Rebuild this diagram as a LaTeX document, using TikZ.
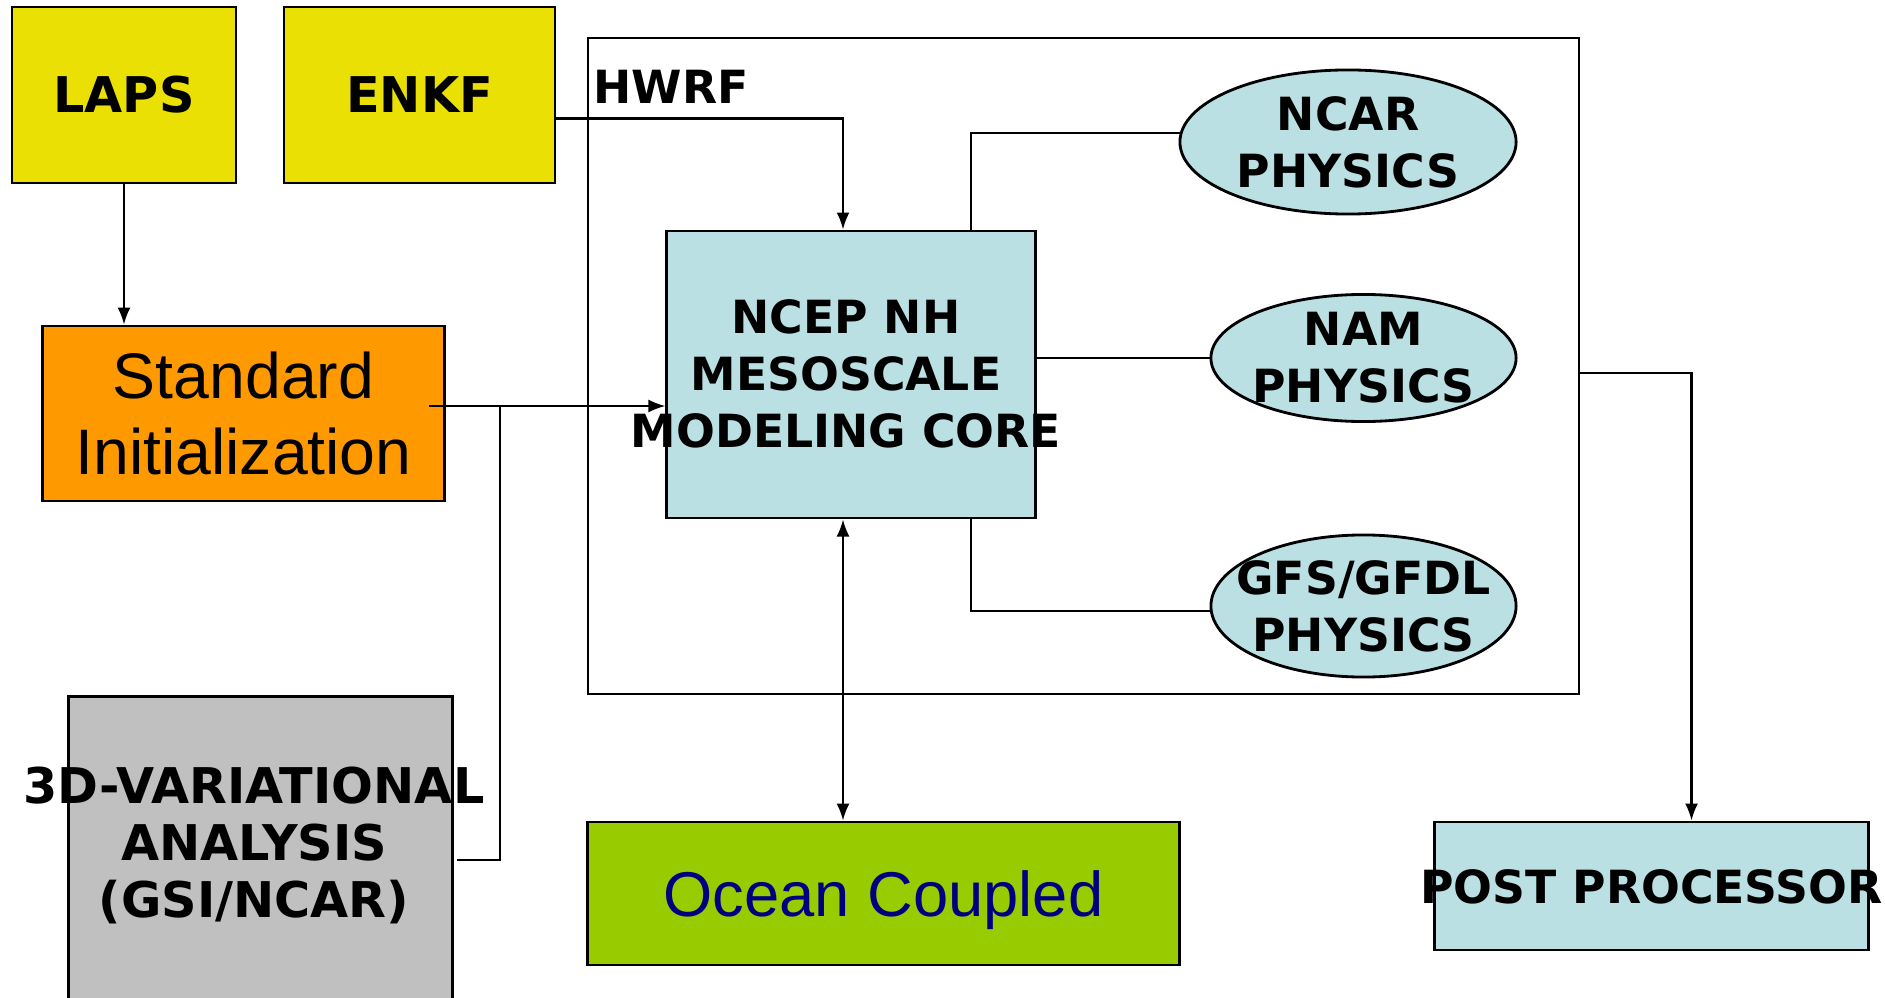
\documentclass[tikz,border=0pt]{standalone}
\usepackage{fontspec}
\setmainfont{Liberation Sans}
\newfontfamily\capsfont{DejaVu Sans}
\usepackage{xcolor}
\usetikzlibrary{arrows,arrows.meta,positioning,calc,shapes}
\definecolor{boxyel}{RGB}{234,224,4}
\definecolor{boxorg}{RGB}{255,153,0}
\definecolor{boxblue}{RGB}{187,224,227}
\definecolor{boxgray}{RGB}{192,192,192}
\definecolor{boxgreen}{RGB}{153,204,0}
\definecolor{oceantxt}{RGB}{0,0,128}

\begin{document}
\begin{tikzpicture}[>={Latex[length=1.7mm,width=1.3mm]},x=0.01cm,y=-0.01cm,
box/.style={rectangle,draw,line width=0.8pt,inner sep=0pt,align=center},
caps/.style={font=\capsfont\bfseries\fontsize{13}{16.2}\selectfont},
txt/.style={caps,align=center,inner sep=0pt},
phys/.style={ellipse,draw,line width=0.8pt,fill=boxblue,inner sep=0pt,
  minimum width=3.05cm,minimum height=1.3cm},
link/.style={line width=0.6pt},
arr/.style={line width=0.6pt,->}]

\useasboundingbox (0,0) rectangle (1885,997);
\clip (0,0) rectangle (1885,997);

\node[box,fill=boxyel,minimum width=2.24cm,minimum height=1.76cm,
  font=\capsfont\bfseries\fontsize{14}{16}\selectfont] (laps) at (124,95) {LAPS};
\node[box,fill=boxyel,minimum width=2.71cm,minimum height=1.76cm,
  font=\capsfont\bfseries\fontsize{14}{16}\selectfont] (enkf) at (419.5,95) {ENKF};
\node[box,fill=boxorg,minimum width=4.01cm,minimum height=1.75cm,
  font=\fontsize{18.3}{21.6}\selectfont] (stdinit) at (243.5,413.5) {Standard\\Initialization};

\node[box,line width=0.6pt,minimum width=9.91cm,minimum height=6.56cm] (hwrf) at (1083.5,366) {};
\node[caps,anchor=west,inner sep=0pt] (hwrflbl) at (593,87) {HWRF};

\node[box,fill=boxblue,minimum width=3.68cm,minimum height=2.87cm] (core) at (851,374.5) {};
\node[txt] (coretxt) at (846,374) {NCEP NH\\MESOSCALE\\MODELING CORE};

\node[phys,minimum width=3.36cm,minimum height=1.44cm] (ncar) at (1348,142) {};
\node[txt] (ncartxt) at (ncar) {NCAR\\PHYSICS};
\node[phys,minimum height=1.27cm] (nam) at (1363.5,358) {};
\node[txt] (namtxt) at (nam) {NAM\\PHYSICS};
\node[phys,minimum height=1.42cm] (gfs) at (1363.5,606) {};
\node[txt] (gfstxt) at (gfs) {GFS/GFDL\\PHYSICS};

\node[box,fill=boxgray,minimum width=3.83cm,minimum height=3.2cm,anchor=north] (var) at (260.5,695) {};
\node[txt,font=\capsfont\bfseries\fontsize{14}{16.2}\selectfont] (vartxt) at (254,845)
  {3D-VARIATIONAL\\ANALYSIS\\(GSI/NCAR)};

\node[box,fill=boxgreen,minimum width=5.91cm,minimum height=1.43cm,text depth=0pt,
  font=\fontsize{18}{20}\selectfont,text=oceantxt] (ocean) at (883.5,893.5) {Ocean Coupled};
\node[box,fill=boxblue,minimum width=4.33cm,minimum height=1.28cm] (post) at (1651.5,886) {};
\node[txt] (posttxt) at (1651.5,887) {POST PROCESSOR};

\coordinate (si) at (429,406);
\coordinate (vj) at (500,406);
\coordinate (vv) at (457,860);
\coordinate (ek) at (555,118.5);

\draw[arr] (laps) -- (laps |- stdinit.north);
\draw[arr] (ek) -| ([xshift=-0.08cm]core.north);
\draw[arr] (si) -- (si -| core.west);
\draw[link] (vv) -- (vv -| vj) -- (vj);
\draw[link] ([xshift=1.2cm]core.north) |- (ncar.177.6);
\draw[link] (core.east |- nam.west) -- (nam.west);
\draw[link] ([xshift=1.2cm]core.south) |- (gfs.182.8);
\draw[arr,<->] ([xshift=-0.08cm]core.south) -- ([xshift=-0.08cm]core.south |- ocean.north);
\draw[arr] ([yshift=-0.07cm]hwrf.east) -| ([xshift=0.4cm]post.north);
\end{tikzpicture}
\end{document}
